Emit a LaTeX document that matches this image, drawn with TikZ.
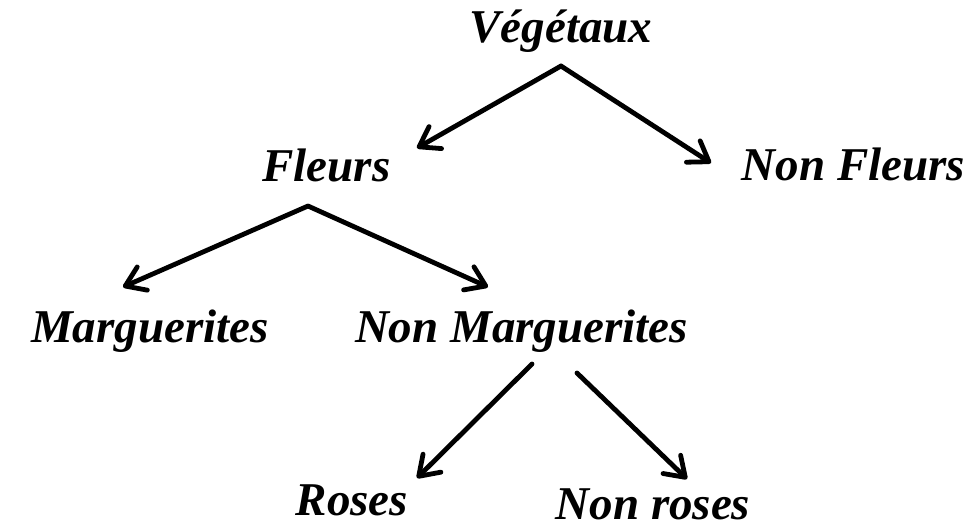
\documentclass[tikz,border=0pt]{standalone}
\usepackage{fontspec}
\setmainfont{Liberation Serif}
\usetikzlibrary{arrows.meta}

\begin{document}
\begin{tikzpicture}[x=0.75pt, y=-0.75pt,
    etiquette/.style={anchor=base, inner sep=0pt, font=\fontsize{35.25}{40}\selectfont\bfseries\itshape},
    fleche/.style={line width=3.6pt, line cap=round, -{Straight Barb[length=14pt, width=19pt, round]}}]
    \pgfmathsetmacro{\rangun}{42}
    \pgfmathsetmacro{\rangdeux}{181}
    \pgfmathsetmacro{\rangtrois}{342}

    \useasboundingbox (0,0) rectangle (971,526);

    \node [etiquette] (vegetaux) at (561, \rangun) {Végétaux};
    \node [etiquette] (fleurs) at (326.5, \rangdeux) {Fleurs};
    \node [etiquette] (nonfleurs) at (853.5, \rangdeux-1) {Non Fleurs};
    \node [etiquette] (marguerites) at (150, \rangtrois) {Marguerites};
    \node [etiquette] (nonmarguerites) at (521.5, \rangtrois) {Non Marguerites};
    \node [etiquette] (roses) at (352, 515) {Roses};
    \node [etiquette] (nonroses) at (653, 519) {Non roses};

    \coordinate (fourche vegetaux) at (561, 66);
    \coordinate (pointe fleurs) at (417, 148);
    \coordinate (pointe nonfleurs) at (711, 163);
    \coordinate (fourche fleurs) at (308, 206);
    \coordinate (pointe marguerites) at (123, 287);
    \coordinate (pointe nonmarguerites) at (488, 287);
    \coordinate (depart roses) at (532, 364);
    \coordinate (pointe roses) at (417, 478);
    \coordinate (depart nonroses) at (577, 373);
    \coordinate (pointe nonroses) at (687, 479);

    \draw [fleche] (fourche vegetaux) -- (pointe fleurs);
    \draw [fleche] (fourche vegetaux) -- (pointe nonfleurs);
    \draw [fleche] (fourche fleurs) -- (pointe marguerites);
    \draw [fleche] (fourche fleurs) -- (pointe nonmarguerites);
    \draw [fleche] (depart roses) -- (pointe roses);
    \draw [fleche] (depart nonroses) -- (pointe nonroses);

\end{tikzpicture}
\end{document}
